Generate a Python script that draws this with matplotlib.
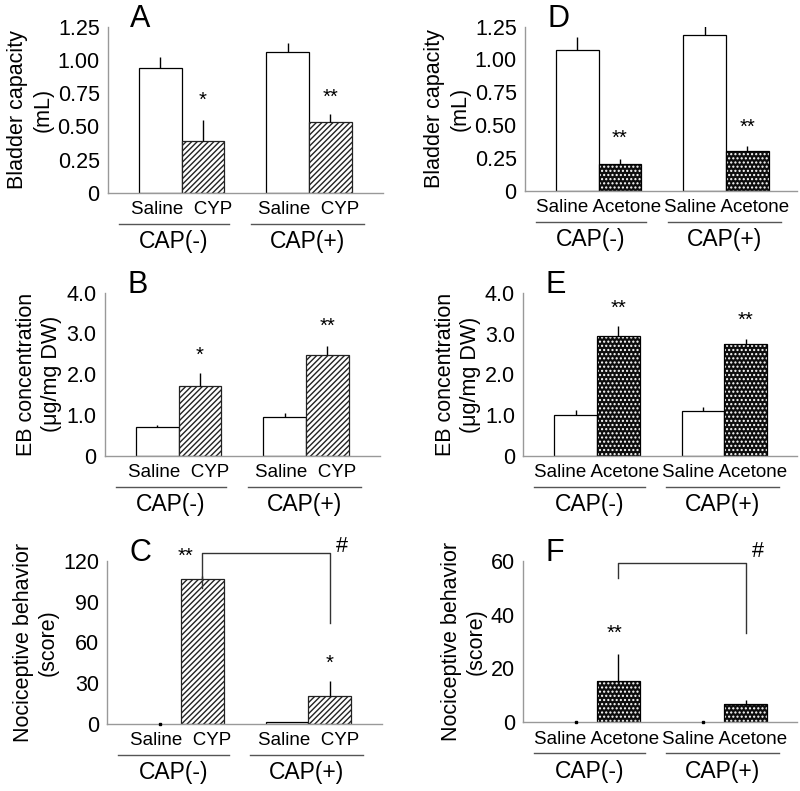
import matplotlib
matplotlib.use('Agg')
import matplotlib.pyplot as plt
from matplotlib.transforms import ScaledTranslation

plt.rcParams['font.family'] = ['Liberation Sans', 'DejaVu Sans']
plt.rcParams['hatch.linewidth'] = 1.0

# ---------------- data ----------------
groups = ['CAP(-)', 'CAP(+)']
cyp_labels = ['Saline  CYP', 'Saline  CYP']
ace_labels = ['Saline Acetone', 'Saline Acetone']

# Panel A: bladder capacity (mL), CYP
a_vals = [0.94, 0.39, 1.06, 0.53]
a_errs = [0.085, 0.155, 0.07, 0.06]
a_sig = ['', '*', '', '**']
a_sig_y = [0, 0.70, 0, 0.72]
a_ticks = [0, 0.25, 0.50, 0.75, 1.00, 1.25]
a_ticklabels = ['0', '0.25', '0.50', '0.75', '1.00', '1.25']

# Panel B: EB concentration, CYP
b_vals = [0.71, 1.72, 0.94, 2.47]
b_errs = [0.045, 0.30, 0.10, 0.22]
b_sig = ['', '*', '', '**']
b_sig_y = [0, 2.47, 0, 3.17]
b_ticks = [0, 1.0, 2.0, 3.0, 4.0]
b_ticklabels = ['0', '1.0', '2.0', '3.0', '4.0']

# Panel C: nociceptive behavior, CYP
c_vals = [0, 106.5, 1.5, 20.3]
c_errs = [0, 2.2, 0, 11.5]
c_sig = ['', '**', '', '*']
c_sig_y = [0, 123, 0, 44.8]
c_ticks = [0, 30, 60, 90, 120]
c_ticklabels = ['0', '30', '60', '90', '120']
c_bracket = [125.4, 99.7, 74.0]   # top, left leg end, right leg end
c_hash_y = 130.3

# Panel D: bladder capacity, acetone
d_vals = [1.07, 0.20, 1.19, 0.30]
d_errs = [0.10, 0.045, 0.07, 0.04]
d_sig = ['', '**', '', '**']
d_sig_y = [0, 0.40, 0, 0.48]

# Panel E: EB concentration, acetone
e_vals = [1.00, 2.96, 1.11, 2.75]
e_errs = [0.12, 0.23, 0.10, 0.12]
e_sig = ['', '**', '', '**']
e_sig_y = [0, 3.63, 0, 3.34]

# Panel F: nociceptive behavior, acetone
f_vals = [0, 15.3, 0, 6.9]
f_errs = [0, 10.0, 0, 1.5]
f_sig = ['', '**', '', '']
f_sig_y = [0, 33.0, 0, 0]
f_ticks = [0, 20, 40, 60]
f_ticklabels = ['0', '20', '40', '60']
f_bracket = [59.1, 53.5, 33.0]
f_hash_y = 63.3

ylabels = ['Bladder capacity\n(mL)', 'EB concentration\n(\u03bcg/mg DW)',
           'Nociceptive behavior\n(score)']

# ---------------- layout ----------------
W, H = 800, 791
fig = plt.figure(figsize=(W / 100, H / 100), dpi=100)

BARW_PX = 42.6
xpos = [1.23, 2.23, 4.22, 5.22]
SPINE_C = '#999999'

FS_TICK = 15.5
FS_YLAB = 15.5
FS_CAT = 13.5
FS_GRP = 16.5
FS_LET = 22
FS_STAR = 14.5


def make_ax(left, top, right, bottom):
    ax = fig.add_axes([left / W, 1 - bottom / H, (right - left) / W, (bottom - top) / H])
    ax.set_xlim(0, (right - left) / BARW_PX)
    return ax


def style(ax, ylim, ticks, ticklabels, ylabel, letter, catlabels):
    ax.set_ylim(*ylim)
    ax.set_yticks(ticks)
    ax.set_yticklabels(ticklabels)
    ax.set_xticks([])
    ax.tick_params(axis='y', length=0, pad=6, labelsize=FS_TICK)
    for s in ['top', 'right']:
        ax.spines[s].set_visible(False)
    for s in ['left', 'bottom']:
        ax.spines[s].set_color(SPINE_C)
        ax.spines[s].set_linewidth(1.0)
    ax.set_ylabel(ylabel, fontsize=FS_YLAB, labelpad=3, linespacing=1.25)
    ax.text(22 / BARW_PX, 1.0, letter, transform=ax.get_xaxis_transform(),
            fontsize=FS_LET, va='baseline', ha='left')
    tr = ax.get_xaxis_transform()
    spans = [(0.25, 2.85), (3.35, 6.0)]
    for gi, (x0, x1) in enumerate(spans):
        gc = (xpos[2 * gi] + xpos[2 * gi + 1]) / 2
        ax.annotate(catlabels[gi], xy=(gc, 0), xycoords=tr, xytext=(0, -12.2),
                    textcoords='offset points', ha='center', va='center',
                    fontsize=FS_CAT, annotation_clip=False)
        off = ScaledTranslation(0, -31 / 100, fig.dpi_scale_trans)
        ax.plot([x0, x1], [0, 0], color='#555555', lw=1.0, transform=tr + off,
                clip_on=False)
        ax.annotate(groups[gi], xy=((x0 + x1) / 2, 0), xycoords=tr, xytext=(0, -35.2),
                    textcoords='offset points', ha='center', va='center',
                    fontsize=FS_GRP, annotation_clip=False)


def draw_bars(ax, vals, errs, kind):
    lws = [0.9 if v > 0 else 0 for v in vals]
    sal_x = [xpos[0], xpos[2]]
    sal_v = [vals[0], vals[2]]
    ax.bar(sal_x, sal_v, width=1.0, color='white', edgecolor='black',
           linewidth=[lws[0], lws[2]], zorder=2)
    tr_x = [xpos[1], xpos[3]]
    tr_v = [vals[1], vals[3]]
    if kind == 'cyp':
        ax.bar(tr_x, tr_v, width=1.0, color='white', edgecolor='#222222',
               hatch='//////', linewidth=0.9, zorder=2)
    else:
        ax.bar(tr_x, tr_v, width=1.0, color='#0d0d0d', edgecolor='white',
               hatch='....', linewidth=0, zorder=2)
        ax.bar(tr_x, tr_v, width=1.0, color='none', edgecolor='black',
               linewidth=0.9, zorder=2.1)
    ax.errorbar(xpos, vals, yerr=[[0] * 4, errs], fmt='none', ecolor='black',
                elinewidth=1.0, capsize=0, zorder=3)
    zx = [x for x, v in zip(xpos, vals) if v == 0]
    if zx:
        ax.plot(zx, [0] * len(zx), 's', color='black', ms=1.5, zorder=3, clip_on=False)


def draw_sig(ax, sig, sig_y, dx=None):
    for i, (s, y) in enumerate(zip(sig, sig_y)):
        if s:
            x = xpos[i] + (dx[i] if dx else 0)
            ax.text(x, y, s, ha='center', va='center', fontsize=FS_STAR, clip_on=False)


def draw_bracket(ax, br, hash_y, hash_dx):
    top, lend, rend = br
    x0, x1 = xpos[1], xpos[3]
    ax.plot([x0, x0, x1, x1], [lend, top, top, rend], color='#333333', lw=1.0,
            clip_on=False, zorder=3)
    ax.text(x1 + hash_dx, hash_y, '#', ha='center', va='center', fontsize=15.5,
            clip_on=False)


# A
axA = make_ax(108, 27, 383, 192.7)
draw_bars(axA, a_vals, a_errs, 'cyp')
style(axA, (0, 1.25), a_ticks, a_ticklabels, ylabels[0], 'A', cyp_labels)
draw_sig(axA, a_sig, a_sig_y)

# B
axB = make_ax(105, 292.7, 380, 455.7)
draw_bars(axB, b_vals, b_errs, 'cyp')
style(axB, (0, 4.0), b_ticks, b_ticklabels, ylabels[1], 'B', cyp_labels)
draw_sig(axB, b_sig, b_sig_y)

# C
axC = make_ax(107.3, 560.7, 381.7, 724)
draw_bars(axC, c_vals, c_errs, 'cyp')
style(axC, (0, 120), c_ticks, c_ticklabels, ylabels[2], 'C', cyp_labels)
draw_sig(axC, c_sig, c_sig_y, dx=[0, -0.4, 0, 0])
draw_bracket(axC, c_bracket, c_hash_y, 0.28)

# D
axD = make_ax(525, 26.7, 797, 190.7)
draw_bars(axD, d_vals, d_errs, 'ace')
style(axD, (0, 1.25), a_ticks, a_ticklabels, ylabels[0], 'D', ace_labels)
draw_sig(axD, d_sig, d_sig_y)

# E
axE = make_ax(523.3, 293.3, 797, 455.7)
draw_bars(axE, e_vals, e_errs, 'ace')
style(axE, (0, 4.0), b_ticks, b_ticklabels, ylabels[1], 'E', ace_labels)
draw_sig(axE, e_sig, e_sig_y)

# F
axF = make_ax(523.3, 560.7, 797, 722.3)
draw_bars(axF, f_vals, f_errs, 'ace')
style(axF, (0, 60), f_ticks, f_ticklabels, ylabels[2], 'F', ace_labels)
draw_sig(axF, f_sig, f_sig_y, dx=[0, -0.08, 0, 0])
draw_bracket(axF, f_bracket, f_hash_y, 0.28)

fig.savefig('out.png', dpi=100, facecolor='white')
